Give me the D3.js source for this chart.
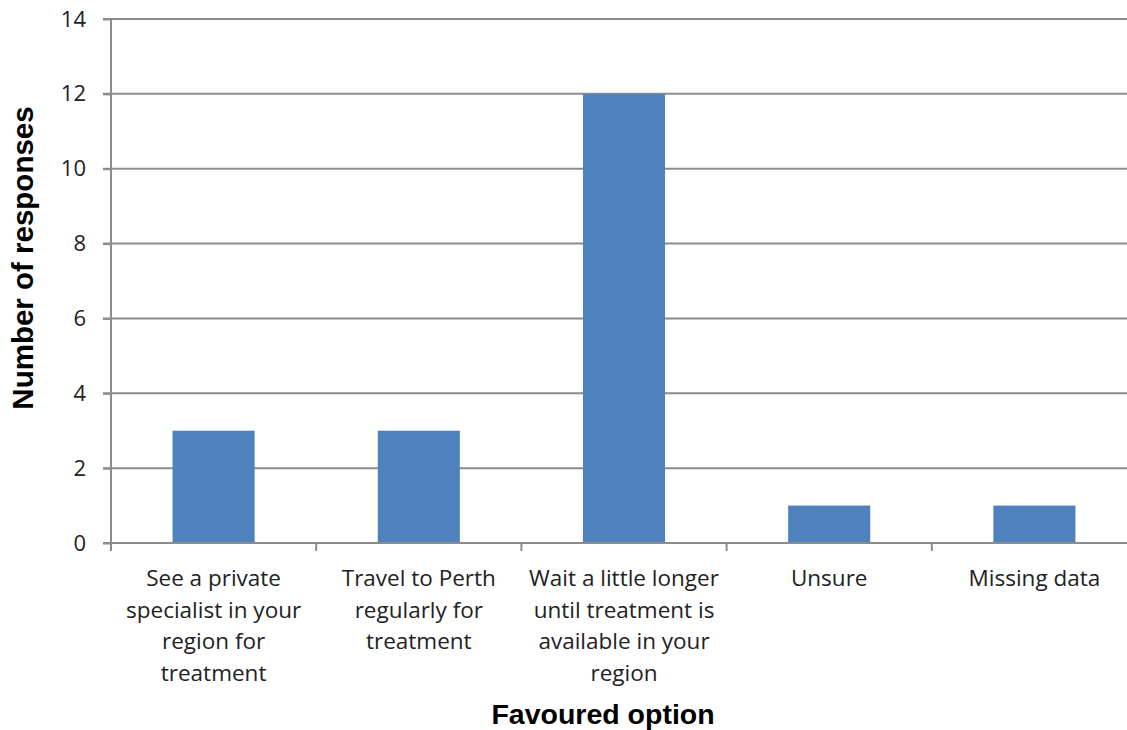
<!DOCTYPE html>
<html><head><meta charset="utf-8">
<script src="https://cdn.jsdelivr.net/npm/d3@7"></script>
<style>body{margin:0;background:#fff;overflow:hidden}</style>
</head><body>
<svg id="c" width="1127" height="730"></svg>
<script>
const categories = [
  ["See a private","specialist in your","region for","treatment"],
  ["Travel to Perth","regularly for","treatment"],
  ["Wait a little longer","until treatment is","available in your","region"],
  ["Unsure"],
  ["Missing data"]
];
const values = [3, 3, 12, 1, 1];
const yTicks = [0, 2, 4, 6, 8, 10, 12, 14];
const xTitle = "Favoured option";
const yTitle = "Number of responses";

(function(){
const svg = d3.select("#c");
const mL = 111, mR = 1137, mT = 19, mB = 543;
const keys = categories.map((c,i)=>i);
const x = d3.scaleBand().domain(keys).range([mL, mR]).paddingInner(0.6).paddingOuter(0.3);
const xb = d3.scaleBand().domain(keys).range([mL, mR]);
const y = d3.scaleLinear().domain([0, 14]).range([mB, mT]);
const grid = "#8c8c8c";
const labelFont = "'Open Sans', sans-serif";

svg.append("g").selectAll("line").data(yTicks.filter(d=>d>0)).join("line")
  .attr("x1", mL - 8).attr("x2", mR).attr("y1", d=>y(d)).attr("y2", d=>y(d))
  .attr("stroke", grid).attr("stroke-width", 2);

const ya = svg.append("g").attr("transform", `translate(${mL},0)`)
  .call(d3.axisLeft(y).tickValues(yTicks).tickSize(8).tickPadding(17));
ya.select(".domain").attr("stroke", grid).attr("stroke-width", 2).attr("d", `M0,${mT}V${mB}`);
ya.selectAll(".tick line").attr("stroke", grid).attr("stroke-width", 2);
ya.selectAll(".tick text").attr("font-family", labelFont).attr("font-size", 22).attr("fill", "#222");

svg.append("g").selectAll("rect").data(values).join("rect")
  .attr("x", (d,i)=>x(i)).attr("width", x.bandwidth())
  .attr("y", d=>y(d)).attr("height", d=>y(0)-y(d))
  .attr("fill", "#4f81bd");

svg.append("line").attr("x1", mL-8).attr("x2", mR).attr("y1", mB).attr("y2", mB)
  .attr("stroke", grid).attr("stroke-width", 2);
svg.append("g").selectAll("line").data(keys.concat([keys.length])).join("line")
  .attr("x1", d=> d<keys.length ? xb(d) : mR).attr("x2", d=> d<keys.length ? xb(d) : mR)
  .attr("y1", mB).attr("y2", mB+8).attr("stroke", grid).attr("stroke-width", 2);

const xl = svg.append("g").selectAll("text").data(categories).join("text")
  .attr("x", (d,i)=>xb(i)+xb.bandwidth()/2).attr("y", 586)
  .attr("text-anchor", "middle").attr("font-family", labelFont).attr("font-size", 22.5).attr("fill", "#222");
xl.each(function(lines){
  d3.select(this).selectAll("tspan").data(lines).join("tspan")
    .attr("x", d3.select(this).attr("x")).attr("dy", (d,j)=> j===0 ? 0 : 31.5).text(d=>d);
});

svg.append("text").attr("x", 603).attr("y", 724).attr("text-anchor", "middle")
  .attr("font-family", "'Liberation Sans', Arial, sans-serif").attr("font-weight", "bold").attr("font-size", 28.5)
  .text(xTitle);
svg.append("text").attr("transform", "translate(33,258) rotate(-90)").attr("text-anchor", "middle")
  .attr("font-family", "'Liberation Sans', Arial, sans-serif").attr("font-weight", "bold").attr("font-size", 29.5)
  .text(yTitle);
})();
</script>
</body></html>
